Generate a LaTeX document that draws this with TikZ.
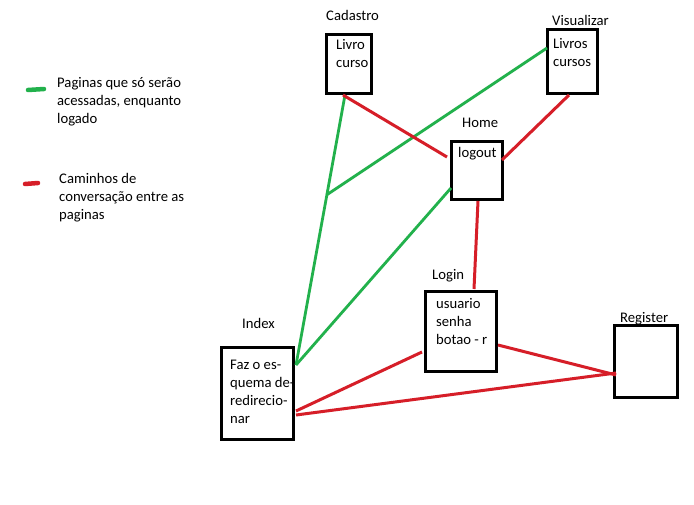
\documentclass[tikz,border=0pt]{standalone}
\usepackage{fontspec}
\setmainfont{Carlito}
\definecolor{pgreen}{RGB}{34,177,76}
\definecolor{pred}{RGB}{214,30,40}
\newcommand\mlines[1]{\begin{tabular}[t]{@{}l@{}}#1\end{tabular}}
\begin{document}
\begin{tikzpicture}[x=1pt,y=-1pt,
  txt/.style={anchor=base west,inner sep=0pt,font=\fontsize{14.67}{18}\selectfont},
  pagebox/.style={draw=black,line width=3pt,inner sep=0pt},
  gline/.style={draw=pgreen,line width=2.8pt},
  rline/.style={draw=pred,line width=3pt},
  legdash/.style={line width=4.5pt,line cap=round}]
\useasboundingbox[fill=white] (0,0) rectangle (694,504);
% legend
\coordinate (lg1) at (28,90); \coordinate (lg2) at (44,89);
\draw[legdash,pgreen] (lg1) -- (lg2);
\node[txt] (legg) at (57,87) {\mlines{Paginas que só serão\\acessadas, enquanto\\logado}};
\coordinate (lr1) at (25,184); \coordinate (lr2) at (38,183);
\draw[legdash,pred] (lr1) -- (lr2);
\node[txt] (legr) at (59,183) {\mlines{Caminhos de\\conversação entre as\\paginas}};
% boxes
\node[pagebox,minimum width=45pt,minimum height=59pt] (cad) at (348.5,63.5) {};
\node[pagebox,minimum width=50pt,minimum height=64pt] (vis) at (572,61) {};
\node[pagebox,minimum width=51pt,minimum height=58pt] (home) at (476.5,170) {};
\node[pagebox,minimum width=71pt,minimum height=80pt] (login) at (460.5,331) {};
\node[pagebox,minimum width=72pt,minimum height=92pt] (index) at (257,393) {};
\node[pagebox,minimum width=63pt,minimum height=72pt] (reg) at (645.5,361) {};
% labels
\node[txt] (cadl) at (326,20) {Cadastro};
\node[txt] (visl) at (552,25) {Visualizar};
\node[txt] (homel) at (462,127) {Home};
\node[txt] (loginl) at (432,279) {Login};
\node[txt] (indexl) at (242,328) {Index};
\node[txt] (regl) at (620,322) {Register};
% box texts
\node[txt] (cadt) at (336,49) {\mlines{Livro\\curso}};
\node[txt] (vist) at (553,48) {\mlines{Livros\\cursos}};
\node[txt] (homet) at (458,157) {logout};
\node[txt] (logint) at (436,308) {\mlines{usuario\\senha\\botao - r}};
\node[txt] (indext) at (230,369) {\mlines{Faz o es-\\quema de-\\redirecio-\\nar}};
% connector points
\coordinate (cadB) at (345,95);
\coordinate (cadR) at (343,95);
\coordinate (idxG) at (296,365);
\coordinate (mid) at (326.5,195);
\coordinate (visL) at (547,48);
\coordinate (homeL) at (451,188);
\coordinate (homeLr) at (447,157);
\coordinate (visB) at (569,95);
\coordinate (homeR) at (502,160);
\coordinate (homeB) at (478,201);
\coordinate (loginT) at (474,289);
\coordinate (loginL) at (422,352);
\coordinate (idxR1) at (296,411);
\coordinate (loginR) at (498,345);
\coordinate (regL) at (616,375);
\coordinate (regL2) at (616,373);
\coordinate (idxR2) at (296,415);
% green
\draw[gline] (cadB) -- (idxG);
\draw[gline] (visL) -- (mid);
\draw[gline] (homeL) -- (idxG);
% red
\draw[rline] (cadR) -- (homeLr);
\draw[rline] (visB) -- (homeR);
\draw[rline] (homeB) -- (loginT);
\draw[rline] (loginL) -- (idxR1);
\draw[rline] (loginR) -- (regL);
\draw[rline] (regL2) -- (idxR2);
\end{tikzpicture}
\end{document}
